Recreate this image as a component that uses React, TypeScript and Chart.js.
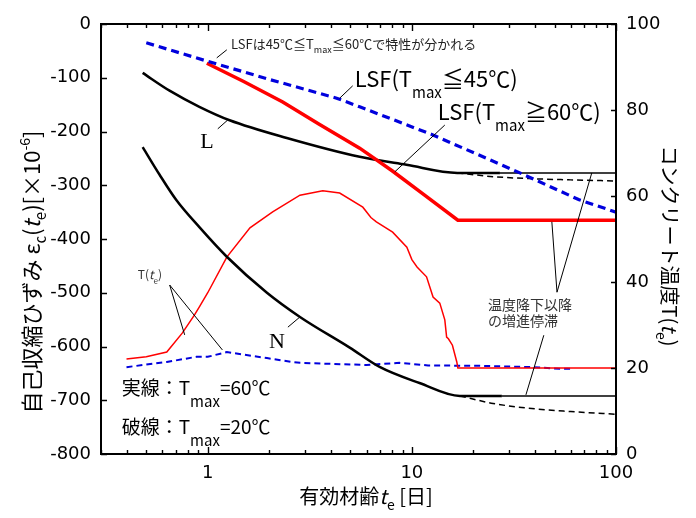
import React, { useEffect, useRef } from "react";
import { Chart, registerables } from "chart.js";
Chart.register(...registerables);

const FONT = '"Noto Sans CJK JP", "Noto Sans", sans-serif';
const TICKFONT = '"DejaVu Sans", "Noto Sans", sans-serif';
const SERIF = '"Liberation Serif", "DejaVu Serif", serif';

// Axis ticks
const xTickValues = [0.3, 0.4, 0.5, 0.6, 0.7, 0.8, 0.9, 1, 2, 3, 4, 5, 6, 7, 8, 9, 10, 20, 30, 40, 50, 60, 70, 80, 90, 100];
const xLabelValues = [1, 10, 100];
const yTickValues = [0, -100, -200, -300, -400, -500, -600, -700, -800];
const y2TickValues = [0, 20, 40, 60, 80, 100];

// LSF (Tmax <= 45C) : blue thick dashed
const lsf45T = [0.5, 0.99, 2.0, 4.28, 5.55, 12.6, 33.8, 66, 100];
const lsf45S = [-35, -69, -103, -138, -154, -206, -277, -327, -350];

// LSF (Tmax >= 60C) : red thick
const lsf60T = [0.99, 1.5, 2.33, 3.5, 5.55, 8.0, 11.5, 16.8, 100];
const lsf60S = [-73, -107, -145, -186, -231, -273, -318, -365, -365];

// L, Tmax = 60C (solid)
const l60T = [0.48, 0.65, 0.91, 1.28, 2.44, 5.55, 9.4, 16.7, 27, 100];
const l60S = [-91, -124, -154, -179, -212, -247, -262, -277, -277, -277];

// L, Tmax = 20C (dashed)
const l20T = [16.7, 25, 40, 60, 100];
const l20S = [-277, -284, -288, -290, -292];

// N, Tmax = 60C (solid)
const n60T = [0.48, 0.58, 0.7, 0.91, 1.24, 1.95, 2.83, 4.96, 6.95, 10.9, 17.2, 27.6, 100];
const n60S = [-229, -280, -327, -378, -433, -500, -545, -602, -638, -668, -692, -692, -692];

// N, Tmax = 20C (dashed)
const n20T = [17.2, 25, 40, 60, 100];
const n20S = [-692, -706, -716, -721, -726];

// Concrete temperature, Tmax = 60C (red thin)
const temp60T = [0.4, 0.5, 0.63, 0.75, 0.86, 0.91, 1.0, 1.24, 1.61, 2.08, 2.83, 3.66, 4.43, 5.75, 6.3, 6.7, 8.05, 9.45, 10.0, 10.6, 11.8, 12.7, 13.7, 14.5, 14.8, 15.1, 15.8, 16.6, 16.8, 100];
const temp60V = [22.1, 22.6, 23.7, 28.1, 32.3, 34.2, 37.5, 45.8, 52.6, 56.3, 60.2, 61.2, 60.7, 57.4, 55.0, 54.0, 51.6, 48.1, 45.2, 43.5, 41.2, 36.5, 35.1, 31.2, 27.2, 26.8, 25.3, 21.4, 20.0, 20.0];

// Concrete temperature, Tmax = 20C (blue thin dashed)
const temp20T = [0.4, 0.63, 0.88, 1.0, 1.24, 1.95, 2.6, 2.83, 6.0, 8.7, 12, 21.5, 39, 53, 61];
const temp20V = [20.2, 21.4, 22.6, 22.6, 23.7, 22.3, 21.4, 21.2, 20.7, 21.2, 20.6, 20.5, 20.2, 19.8, 19.8];

const pts = (xs: number[], ys: number[]) => xs.map((x, i) => ({ x, y: ys[i] }));

type Part = { t: string; s?: number; dy?: number; it?: boolean; fam?: string };

function richWidth(ctx: CanvasRenderingContext2D, parts: Part[], base: number, fam: string) {
  let w = 0;
  for (const p of parts) {
    ctx.font = `${p.it ? "italic " : ""}${p.s ?? base}px ${p.fam ?? fam}`;
    w += ctx.measureText(p.t).width;
  }
  return w;
}

function drawRich(ctx: CanvasRenderingContext2D, parts: Part[], x: number, y: number, base: number, align: "left" | "center", fam: string = FONT) {
  const w = richWidth(ctx, parts, base, fam);
  let cx = align === "center" ? x - w / 2 : x;
  ctx.textAlign = "left";
  ctx.textBaseline = "alphabetic";
  for (const p of parts) {
    ctx.font = `${p.it ? "italic " : ""}${p.s ?? base}px ${p.fam ?? fam}`;
    ctx.fillText(p.t, cx, y + (p.dy ?? 0));
    cx += ctx.measureText(p.t).width;
  }
}

const overlay = {
  id: "overlay",
  afterDraw(chart: any) {
    const ctx: CanvasRenderingContext2D = chart.ctx;
    const a = chart.chartArea;
    const sx = chart.scales.x, sy = chart.scales.y, sy2 = chart.scales.y2;
    const X = (t: number) => sx.getPixelForValue(t);
    const Y = (s: number) => sy.getPixelForValue(s);
    const Y2 = (T: number) => sy2.getPixelForValue(T);
    ctx.save();
    ctx.strokeStyle = "#000";
    ctx.fillStyle = "#000";
    ctx.lineWidth = 2;
    ctx.strokeRect(a.left, a.top, a.right - a.left, a.bottom - a.top);

    ctx.lineWidth = 1.4;
    ctx.beginPath();
    for (const v of xTickValues) {
      const px = Math.round(X(v)) + 0.5;
      const len = xLabelValues.includes(v) ? 7 : 4;
      ctx.moveTo(px, a.bottom);
      ctx.lineTo(px, a.bottom - len);
      ctx.moveTo(px, a.top);
      ctx.lineTo(px, a.top + len);
    }
    for (const v of yTickValues) {
      const py = Math.round(Y(v)) + 0.5;
      ctx.moveTo(a.left, py);
      ctx.lineTo(a.left + 6, py);
    }
    for (const v of y2TickValues) {
      const py = Math.round(Y2(v)) + 0.5;
      ctx.moveTo(a.right, py);
      ctx.lineTo(a.right - 5, py);
    }
    ctx.stroke();

    // leader lines
    ctx.lineWidth = 1;
    ctx.beginPath();
    const segS: number[][] = [
      [1.107, -63, 1.24, -48],
      [4.43, -138, 5.13, -115],
      [8.25, -275, 14.5, -188],
      [1.12, -195, 1.25, -179],
      [2.47, -564, 2.83, -545],
      [76.1, -277, 51.4, -499],
      [48.5, -368, 51.4, -499],
      [44.3, -579, 36.2, -690],
    ];
    for (const [t1, s1, t2, s2] of segS) {
      ctx.moveTo(X(t1), Y(s1));
      ctx.lineTo(X(t2), Y(s2));
    }
    const segT: number[][] = [
      [0.651, 39.3, 0.771, 27.7],
      [0.651, 39.3, 1.18, 24.2],
    ];
    for (const [t1, v1, t2, v2] of segT) {
      ctx.moveTo(X(t1), Y2(v1));
      ctx.lineTo(X(t2), Y2(v2));
    }
    ctx.stroke();

    // annotation texts
    ctx.fillStyle = "#222";
    drawRich(ctx, [{ t: "LSFは45℃≦T" }, { t: "max", s: 9, dy: 4 }, { t: "≦60℃で特性が分かれる" }], X(1.3), Y(-37) + 5, 13, "left");
    ctx.fillStyle = "#000";
    drawRich(ctx, [{ t: "LSF(T" }, { t: "max", s: 15, dy: 11 }, { t: "≦45℃)" }], X(5.25), Y(-104) + 7, 22, "left");
    drawRich(ctx, [{ t: "LSF(T" }, { t: "max", s: 15, dy: 11 }, { t: "≧60℃)" }], X(13.4), Y(-166) + 7, 22, "left");
    drawRich(ctx, [{ t: "L" }], X(0.99), Y(-216) + 8, 22, "center", SERIF);
    drawRich(ctx, [{ t: "N" }], X(2.18), Y(-588) + 8, 22, "center", SERIF);
    ctx.fillStyle = "#333";
    drawRich(ctx, [{ t: "T(" }, { t: "t", it: true }, { t: "e", s: 8, dy: 5 }, { t: ")" }], X(0.454), Y2(41.6) + 4, 12, "left");
    ctx.fillStyle = "#000";
    drawRich(ctx, [{ t: "実線：T" }, { t: "max", s: 15, dy: 12 }, { t: "=60℃" }], X(0.379), Y(-677) + 7, 19, "left");
    drawRich(ctx, [{ t: "破線：T" }, { t: "max", s: 15, dy: 12 }, { t: "=20℃" }], X(0.379), Y(-750) + 7, 19, "left");
    ctx.fillStyle = "#333";
    drawRich(ctx, [{ t: "温度降下以降" }], X(23.6), Y(-523) + 5, 14, "left");
    drawRich(ctx, [{ t: "の増進停滞" }], X(23.6), Y(-553) + 5, 14, "left");

    // axis titles
    ctx.fillStyle = "#000";
    ctx.save();
    ctx.translate(40, 272);
    ctx.rotate(-Math.PI / 2);
    drawRich(ctx, [
      { t: "自己収縮ひずみ " },
      { t: "ε" },
      { t: "c", s: 15, dy: 6 },
      { t: "(" },
      { t: "t", it: true },
      { t: "e", s: 15, dy: 6 },
      { t: ")[×10" },
      { t: "-6", s: 14, dy: -10 },
      { t: "]" },
    ], 0, 0, 22, "center");
    ctx.restore();

    ctx.save();
    ctx.translate(662, 246);
    ctx.rotate(Math.PI / 2);
    drawRich(ctx, [
      { t: "コンクリート温度T(" },
      { t: "t", it: true },
      { t: "e", s: 14, dy: 6 },
      { t: ")" },
    ], 0, 0, 20, "center");
    ctx.restore();

    drawRich(ctx, [
      { t: "有効材齢" },
      { t: "t", it: true },
      { t: "e", s: 14, dy: 6 },
      { t: " [日]" },
    ], 366, 504, 20, "center");

    ctx.restore();
  },
};

export default function App() {
  const ref = useRef<HTMLCanvasElement>(null);
  useEffect(() => {
    if (!ref.current) return;
    const base = { pointRadius: 0, fill: false, tension: 0 };
    const chart = new Chart(ref.current, {
      type: "line",
      data: {
        datasets: [
          { ...base, label: "LSF45", data: pts(lsf45T, lsf45S), yAxisID: "y", borderColor: "#0000dd", borderWidth: 3.2, borderDash: [8, 5] },
          { ...base, label: "LSF60", data: pts(lsf60T, lsf60S), yAxisID: "y", borderColor: "#ff0000", borderWidth: 3.5 },
          { ...base, label: "L60", data: pts(l60T, l60S), yAxisID: "y", borderColor: "#000", borderWidth: 2.5, cubicInterpolationMode: "monotone",
            segment: { borderWidth: (c: any) => (c.p0.parsed.x >= 26 ? 1.5 : 2.5) } },
          { ...base, label: "L20", data: pts(l20T, l20S), yAxisID: "y", borderColor: "#000", borderWidth: 1.5, borderDash: [6, 4], cubicInterpolationMode: "monotone" },
          { ...base, label: "N60", data: pts(n60T, n60S), yAxisID: "y", borderColor: "#000", borderWidth: 2.5, cubicInterpolationMode: "monotone",
            segment: { borderWidth: (c: any) => (c.p0.parsed.x >= 26 ? 1.5 : 2.5) } },
          { ...base, label: "N20", data: pts(n20T, n20S), yAxisID: "y", borderColor: "#000", borderWidth: 1.5, borderDash: [6, 4], cubicInterpolationMode: "monotone" },
          { ...base, label: "T60", data: pts(temp60T, temp60V), yAxisID: "y2", borderColor: "#ff0000", borderWidth: 1.5 },
          { ...base, label: "T20", data: pts(temp20T, temp20V), yAxisID: "y2", borderColor: "#0000dd", borderWidth: 2, borderDash: [6, 4] },
        ],
      },
      options: {
        responsive: false,
        animation: false,
        events: [],
        layout: { padding: { top: 24, left: 0, right: 0, bottom: 0 } },
        plugins: { legend: { display: false }, tooltip: { enabled: false } },
        scales: {
          x: {
            type: "logarithmic",
            min: 0.3,
            max: 100,
            position: "bottom",
            grid: { display: false, drawTicks: false },
            border: { display: false },
            afterBuildTicks: (s: any) => { s.ticks = xTickValues.map((v) => ({ value: v })); },
            afterFit: (s: any) => { s.height = 64; },
            ticks: {
              autoSkip: false,
              maxRotation: 0,
              padding: 9,
              color: "#000",
              font: { family: TICKFONT, size: 18 },
              callback: (v: any) => (xLabelValues.includes(Number(v)) ? String(v) : ""),
            },
          },
          y: {
            type: "linear",
            min: -800,
            max: 0,
            position: "left",
            grid: { display: false, drawTicks: false },
            border: { display: false },
            afterBuildTicks: (s: any) => { s.ticks = yTickValues.map((v) => ({ value: v })); },
            afterFit: (s: any) => { s.width = 101; },
            ticks: { padding: 10, color: "#000", font: { family: TICKFONT, size: 18 } },
          },
          y2: {
            type: "linear",
            min: 0,
            max: 100,
            position: "right",
            grid: { display: false, drawTicks: false },
            border: { display: false },
            afterBuildTicks: (s: any) => { s.ticks = y2TickValues.map((v) => ({ value: v })); },
            afterFit: (s: any) => { s.width = 80; },
            ticks: { padding: 10, color: "#000", font: { family: TICKFONT, size: 18 } },
          },
        },
      } as any,
      plugins: [overlay],
    });
    return () => chart.destroy();
  }, []);
  return (
    <div style={{ position: "absolute", left: 0, top: 0, width: 696, height: 518, background: "#fff" }}>
      <canvas ref={ref} width={696} height={518} style={{ width: 696, height: 518, display: "block" }} />
    </div>
  );
}
